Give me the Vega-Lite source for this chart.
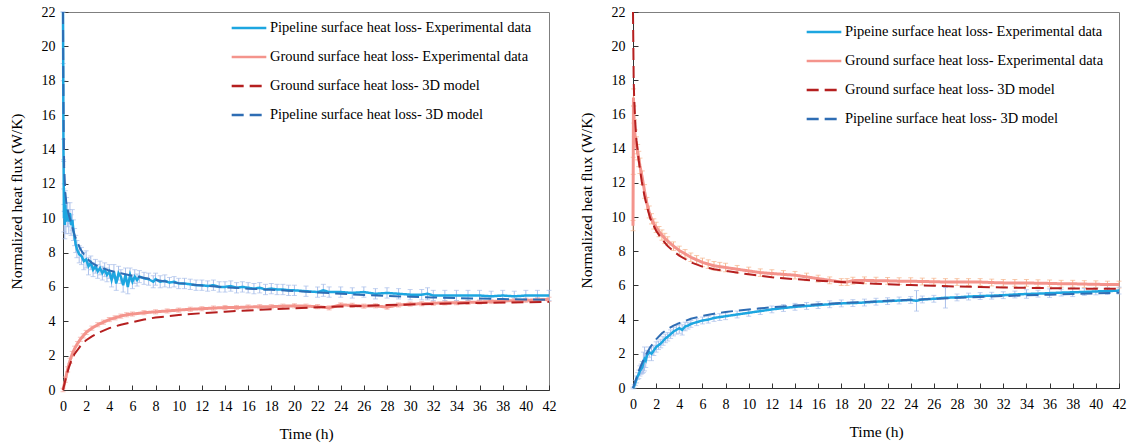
{
  "$schema": "https://vega.github.io/schema/vega-lite/v6.json",
  "padding": {"left": 8, "top": 4, "right": 4, "bottom": 4},
  "background": "white",
  "datasets": {
    "aPE": [
      {"t":0,"v":22,"e":0},{"t":0.02,"v":18.5,"e":0.5},{"t":0.04,"v":14,"e":0.6},{"t":0.06,"v":12.5,"e":0.8},{"t":0.08,"v":10,"e":0.8},
      {"t":0.1,"v":11.2,"e":0.8},{"t":0.15,"v":9.6,"e":0.8},{"t":0.2,"v":10.8,"e":0.8},{"t":0.25,"v":9.8,"e":0.7},{"t":0.3,"v":10.5,"e":0.7},
      {"t":0.4,"v":10.2,"e":0.7},{"t":0.5,"v":9.8,"e":0.7},{"t":0.6,"v":10.3,"e":0.6},{"t":0.7,"v":9.6,"e":0.6},{"t":0.8,"v":9.9,"e":0.6},
      {"t":0.9,"v":9.3,"e":0.6},{"t":1,"v":8.9,"e":0.5},{"t":1.1,"v":8.5,"e":0.5},{"t":1.2,"v":8.2,"e":0.5},{"t":1.4,"v":7.9,"e":0.5},
      {"t":1.6,"v":7.8,"e":0.5},{"t":1.8,"v":7.5,"e":0.5},{"t":2,"v":7.6,"e":0.5},{"t":2.2,"v":7.2,"e":0.5},{"t":2.4,"v":7.4,"e":0.4},
      {"t":2.6,"v":7.0,"e":0.4},{"t":2.8,"v":7.2,"e":0.4},{"t":3,"v":6.9,"e":0.4},{"t":3.2,"v":7.1,"e":0.4},{"t":3.4,"v":6.8,"e":0.4},
      {"t":3.6,"v":7.0,"e":0.4},{"t":3.8,"v":6.7,"e":0.4},{"t":4,"v":6.9,"e":0.4},{"t":4.2,"v":6.4,"e":0.4},{"t":4.4,"v":6.9,"e":0.4},
      {"t":4.6,"v":6.2,"e":0.4},{"t":4.8,"v":6.8,"e":0.4},{"t":5,"v":6.6,"e":0.4},{"t":5.2,"v":6.1,"e":0.4},{"t":5.4,"v":6.7,"e":0.4},
      {"t":5.6,"v":6.0,"e":0.4},{"t":5.8,"v":6.7,"e":0.4},{"t":6,"v":6.3,"e":0.4},{"t":6.2,"v":6.6,"e":0.4},{"t":6.4,"v":6.4,"e":0.35},
      {"t":6.6,"v":6.6,"e":0.35},{"t":7,"v":6.5,"e":0.35},{"t":7.4,"v":6.45,"e":0.35},{"t":7.8,"v":6.3,"e":0.35},{"t":8,"v":6.45,"e":0.35},
      {"t":8.4,"v":6.3,"e":0.35},{"t":8.8,"v":6.35,"e":0.35},{"t":9.2,"v":6.25,"e":0.3},{"t":9.6,"v":6.3,"e":0.3},{"t":10,"v":6.2,"e":0.3},
      {"t":10.5,"v":6.2,"e":0.3},{"t":11,"v":6.15,"e":0.3},{"t":11.5,"v":6.1,"e":0.3},{"t":12,"v":6.1,"e":0.3},{"t":12.5,"v":6.05,"e":0.3},
      {"t":13,"v":6.1,"e":0.3},{"t":13.5,"v":6.0,"e":0.3},{"t":14,"v":6.0,"e":0.3},{"t":14.5,"v":6.05,"e":0.3},{"t":15,"v":5.95,"e":0.3},
      {"t":15.5,"v":6.0,"e":0.3},{"t":16,"v":5.95,"e":0.3},{"t":16.5,"v":5.9,"e":0.3},{"t":17,"v":5.95,"e":0.3},{"t":17.5,"v":5.85,"e":0.3},
      {"t":18,"v":5.9,"e":0.3},{"t":18.5,"v":5.85,"e":0.3},{"t":19,"v":5.85,"e":0.3},{"t":19.5,"v":5.8,"e":0.3},{"t":20,"v":5.8,"e":0.3},
      {"t":21,"v":5.75,"e":0.3},{"t":22,"v":5.7,"e":0.3},{"t":22.5,"v":5.8,"e":0.35},{"t":23,"v":5.7,"e":0.3},{"t":24,"v":5.7,"e":0.3},
      {"t":25,"v":5.65,"e":0.3},{"t":26,"v":5.7,"e":0.3},{"t":27,"v":5.6,"e":0.3},{"t":28,"v":5.65,"e":0.3},{"t":29,"v":5.6,"e":0.3},
      {"t":30,"v":5.55,"e":0.3},{"t":31,"v":5.55,"e":0.3},{"t":31.5,"v":5.6,"e":0.35},{"t":32,"v":5.5,"e":0.3},{"t":33,"v":5.5,"e":0.3},
      {"t":34,"v":5.5,"e":0.3},{"t":35,"v":5.5,"e":0.3},{"t":36,"v":5.5,"e":0.3},{"t":37,"v":5.45,"e":0.3},{"t":38,"v":5.5,"e":0.3},
      {"t":39,"v":5.45,"e":0.3},{"t":40,"v":5.5,"e":0.3},{"t":41,"v":5.5,"e":0.3},{"t":42,"v":5.5,"e":0.3}
    ],
    "aPM": [
      {"t":0,"v":22},{"t":0.03,"v":18},{"t":0.06,"v":15},{"t":0.1,"v":13},{"t":0.2,"v":11.5},{"t":0.3,"v":10.8},
      {"t":0.5,"v":10.2},{"t":0.8,"v":9.5},{"t":1,"v":9.0},{"t":1.5,"v":8.2},{"t":2,"v":7.7},{"t":2.5,"v":7.4},
      {"t":3,"v":7.2},{"t":4,"v":6.95},{"t":5,"v":6.8},{"t":6,"v":6.65},{"t":8,"v":6.4},{"t":10,"v":6.22},
      {"t":12,"v":6.08},{"t":14,"v":5.98},{"t":16,"v":5.9},{"t":18,"v":5.83},{"t":20,"v":5.76},{"t":22,"v":5.68},
      {"t":24,"v":5.6},{"t":26,"v":5.53},{"t":28,"v":5.47},{"t":30,"v":5.43},{"t":32,"v":5.39},{"t":34,"v":5.35},
      {"t":36,"v":5.32},{"t":38,"v":5.29},{"t":40,"v":5.27},{"t":42,"v":5.25}
    ],
    "aGE": [
      {"t":0,"v":0,"e":0.1},{"t":0.2,"v":0.6,"e":0.15},{"t":0.4,"v":1.2,"e":0.15},{"t":0.6,"v":1.7,"e":0.15},{"t":0.8,"v":2.1,"e":0.15},
      {"t":1,"v":2.4,"e":0.15},{"t":1.25,"v":2.7,"e":0.12},{"t":1.5,"v":2.95,"e":0.12},{"t":1.75,"v":3.15,"e":0.12},{"t":2,"v":3.35,"e":0.12},
      {"t":2.5,"v":3.6,"e":0.12},{"t":3,"v":3.8,"e":0.12},{"t":3.5,"v":3.95,"e":0.12},{"t":4,"v":4.1,"e":0.12},{"t":4.5,"v":4.2,"e":0.12},
      {"t":5,"v":4.3,"e":0.12},{"t":5.5,"v":4.38,"e":0.12},{"t":6,"v":4.42,"e":0.12},{"t":7,"v":4.5,"e":0.12},{"t":8,"v":4.55,"e":0.12},
      {"t":9,"v":4.6,"e":0.12},{"t":10,"v":4.65,"e":0.12},{"t":11,"v":4.7,"e":0.12},{"t":12,"v":4.73,"e":0.12},{"t":13,"v":4.77,"e":0.12},
      {"t":14,"v":4.8,"e":0.12},{"t":15,"v":4.8,"e":0.12},{"t":16,"v":4.83,"e":0.12},{"t":17,"v":4.85,"e":0.12},{"t":18,"v":4.85,"e":0.12},
      {"t":19,"v":4.88,"e":0.12},{"t":20,"v":4.9,"e":0.12},{"t":21,"v":4.88,"e":0.12},{"t":22,"v":4.85,"e":0.12},{"t":23,"v":4.78,"e":0.12},
      {"t":24,"v":4.95,"e":0.12},{"t":25,"v":4.93,"e":0.12},{"t":26,"v":4.88,"e":0.12},{"t":27,"v":4.9,"e":0.12},{"t":28,"v":4.82,"e":0.12},
      {"t":29,"v":4.95,"e":0.12},{"t":30,"v":5.0,"e":0.12},{"t":31,"v":5.02,"e":0.12},{"t":32,"v":5.05,"e":0.12},{"t":33,"v":5.07,"e":0.12},
      {"t":34,"v":5.08,"e":0.12},{"t":35,"v":5.1,"e":0.12},{"t":36,"v":5.12,"e":0.12},{"t":37,"v":5.15,"e":0.12},{"t":38,"v":5.18,"e":0.12},
      {"t":39,"v":5.2,"e":0.12},{"t":40,"v":5.22,"e":0.12},{"t":41,"v":5.25,"e":0.12},{"t":42,"v":5.28,"e":0.12}
    ],
    "aGM": [
      {"t":0,"v":0},{"t":0.25,"v":0.7},{"t":0.5,"v":1.3},{"t":0.75,"v":1.75},{"t":1,"v":2.1},{"t":1.5,"v":2.55},
      {"t":2,"v":2.9},{"t":2.5,"v":3.12},{"t":3,"v":3.3},{"t":3.5,"v":3.46},{"t":4,"v":3.6},{"t":5,"v":3.8},
      {"t":6,"v":3.95},{"t":7,"v":4.1},{"t":8,"v":4.22},{"t":10,"v":4.36},{"t":12,"v":4.47},{"t":14,"v":4.56},
      {"t":16,"v":4.63},{"t":18,"v":4.7},{"t":20,"v":4.76},{"t":22,"v":4.81},{"t":24,"v":4.86},{"t":26,"v":4.9},
      {"t":28,"v":4.94},{"t":30,"v":4.98},{"t":32,"v":5.01},{"t":34,"v":5.04},{"t":36,"v":5.07},{"t":38,"v":5.09},
      {"t":40,"v":5.11},{"t":42,"v":5.13}
    ],
    "bGE": [
      {"t":0,"v":9.5,"e":0.3},{"t":0.02,"v":13,"e":0.5},{"t":0.04,"v":17,"e":0.5},{"t":0.08,"v":16,"e":0.5},{"t":0.12,"v":15.2,"e":0.5},
      {"t":0.2,"v":14.6,"e":0.5},{"t":0.3,"v":14.2,"e":0.5},{"t":0.4,"v":13.8,"e":0.45},{"t":0.5,"v":13.4,"e":0.45},{"t":0.6,"v":13.0,"e":0.45},
      {"t":0.8,"v":12.3,"e":0.4},{"t":1,"v":11.5,"e":0.4},{"t":1.2,"v":10.8,"e":0.35},{"t":1.4,"v":10.3,"e":0.35},{"t":1.6,"v":9.9,"e":0.3},
      {"t":1.8,"v":9.6,"e":0.3},{"t":2,"v":9.4,"e":0.3},{"t":2.25,"v":9.15,"e":0.3},{"t":2.5,"v":8.95,"e":0.3},{"t":2.75,"v":8.75,"e":0.3},
      {"t":3,"v":8.6,"e":0.25},{"t":3.5,"v":8.3,"e":0.25},{"t":4,"v":8.05,"e":0.25},{"t":4.5,"v":7.85,"e":0.25},{"t":5,"v":7.65,"e":0.25},
      {"t":5.5,"v":7.5,"e":0.25},{"t":6,"v":7.35,"e":0.25},{"t":6.5,"v":7.25,"e":0.25},{"t":7,"v":7.15,"e":0.25},{"t":7.5,"v":7.1,"e":0.25},
      {"t":8,"v":7.05,"e":0.25},{"t":9,"v":6.95,"e":0.22},{"t":10,"v":6.85,"e":0.22},{"t":11,"v":6.75,"e":0.22},{"t":12,"v":6.7,"e":0.22},
      {"t":13,"v":6.65,"e":0.22},{"t":14,"v":6.6,"e":0.22},{"t":15,"v":6.5,"e":0.22},{"t":16,"v":6.4,"e":0.2},{"t":17,"v":6.3,"e":0.2},
      {"t":18,"v":6.2,"e":0.2},{"t":18.5,"v":6.2,"e":0.2},{"t":19,"v":6.28,"e":0.2},{"t":20,"v":6.3,"e":0.2},{"t":21,"v":6.28,"e":0.2},
      {"t":22,"v":6.27,"e":0.2},{"t":23,"v":6.25,"e":0.2},{"t":24,"v":6.25,"e":0.2},{"t":25,"v":6.23,"e":0.2},{"t":26,"v":6.22,"e":0.2},
      {"t":27,"v":6.2,"e":0.2},{"t":28,"v":6.2,"e":0.2},{"t":29,"v":6.2,"e":0.2},{"t":30,"v":6.2,"e":0.2},{"t":31,"v":6.17,"e":0.2},
      {"t":32,"v":6.15,"e":0.2},{"t":33,"v":6.15,"e":0.2},{"t":34,"v":6.15,"e":0.2},{"t":35,"v":6.13,"e":0.2},{"t":36,"v":6.12,"e":0.2},
      {"t":37,"v":6.1,"e":0.2},{"t":38,"v":6.1,"e":0.2},{"t":39,"v":6.08,"e":0.2},{"t":40,"v":6.07,"e":0.2},{"t":41,"v":6.05,"e":0.2},
      {"t":42,"v":6.05,"e":0.2}
    ],
    "bGM": [
      {"t":0,"v":22},{"t":0.03,"v":20},{"t":0.06,"v":18},{"t":0.1,"v":17},{"t":0.2,"v":15.5},{"t":0.3,"v":14.5},
      {"t":0.5,"v":13.3},{"t":0.75,"v":12.1},{"t":1,"v":11.2},{"t":1.25,"v":10.5},{"t":1.5,"v":9.9},{"t":2,"v":9.2},
      {"t":2.5,"v":8.7},{"t":3,"v":8.3},{"t":3.5,"v":8.0},{"t":4,"v":7.75},{"t":5,"v":7.35},{"t":6,"v":7.1},
      {"t":7,"v":6.95},{"t":8,"v":6.85},{"t":10,"v":6.65},{"t":12,"v":6.48},{"t":14,"v":6.37},{"t":16,"v":6.28},
      {"t":18,"v":6.2},{"t":20,"v":6.13},{"t":22,"v":6.07},{"t":24,"v":6.02},{"t":26,"v":5.98},{"t":28,"v":5.94},
      {"t":30,"v":5.91},{"t":32,"v":5.88},{"t":34,"v":5.86},{"t":36,"v":5.84},{"t":38,"v":5.82},{"t":40,"v":5.81},
      {"t":42,"v":5.8}
    ],
    "bPE": [
      {"t":0,"v":0,"e":0.05},{"t":0.1,"v":0.1,"e":0.1},{"t":0.2,"v":0.3,"e":0.15},{"t":0.3,"v":0.5,"e":0.2},{"t":0.4,"v":0.7,"e":0.2},
      {"t":0.5,"v":0.8,"e":0.25},{"t":0.6,"v":1.0,"e":0.3},{"t":0.7,"v":1.1,"e":0.3},{"t":0.8,"v":1.2,"e":0.35},{"t":0.9,"v":1.5,"e":0.6},
      {"t":1,"v":1.7,"e":0.7},{"t":1.1,"v":1.6,"e":0.4},{"t":1.2,"v":1.9,"e":0.3},{"t":1.4,"v":2.1,"e":0.3},{"t":1.6,"v":2.0,"e":0.4},
      {"t":1.8,"v":2.2,"e":0.3},{"t":2,"v":2.4,"e":0.3},{"t":2.2,"v":2.5,"e":0.25},{"t":2.4,"v":2.6,"e":0.25},{"t":2.6,"v":2.75,"e":0.25},
      {"t":2.8,"v":2.9,"e":0.25},{"t":3,"v":3.0,"e":0.25},{"t":3.25,"v":3.15,"e":0.25},{"t":3.5,"v":3.3,"e":0.25},{"t":3.75,"v":3.4,"e":0.25},
      {"t":4,"v":3.5,"e":0.3},{"t":4.25,"v":3.4,"e":0.3},{"t":4.5,"v":3.6,"e":0.25},{"t":4.75,"v":3.65,"e":0.2},{"t":5,"v":3.75,"e":0.2},
      {"t":5.5,"v":3.85,"e":0.2},{"t":6,"v":3.95,"e":0.2},{"t":6.5,"v":4.0,"e":0.2},{"t":7,"v":4.1,"e":0.2},{"t":7.5,"v":4.15,"e":0.2},
      {"t":8,"v":4.2,"e":0.2},{"t":9,"v":4.3,"e":0.2},{"t":10,"v":4.4,"e":0.2},{"t":11,"v":4.5,"e":0.2},{"t":12,"v":4.6,"e":0.2},
      {"t":13,"v":4.68,"e":0.2},{"t":14,"v":4.75,"e":0.2},{"t":15,"v":4.8,"e":0.2},{"t":16,"v":4.85,"e":0.2},{"t":17,"v":4.9,"e":0.2},
      {"t":18,"v":4.95,"e":0.2},{"t":19,"v":4.97,"e":0.2},{"t":20,"v":5.0,"e":0.2},{"t":21,"v":5.05,"e":0.2},{"t":22,"v":5.08,"e":0.2},
      {"t":23,"v":5.12,"e":0.2},{"t":24,"v":5.15,"e":0.2},{"t":24.5,"v":5.1,"e":0.6},{"t":25,"v":5.18,"e":0.2},{"t":26,"v":5.22,"e":0.2},
      {"t":27,"v":5.28,"e":0.6},{"t":28,"v":5.3,"e":0.2},{"t":29,"v":5.35,"e":0.2},{"t":30,"v":5.38,"e":0.2},{"t":31,"v":5.4,"e":0.2},
      {"t":32,"v":5.43,"e":0.2},{"t":33,"v":5.47,"e":0.2},{"t":34,"v":5.5,"e":0.25},{"t":35,"v":5.52,"e":0.2},{"t":36,"v":5.55,"e":0.25},
      {"t":37,"v":5.58,"e":0.2},{"t":38,"v":5.6,"e":0.25},{"t":39,"v":5.62,"e":0.2},{"t":40,"v":5.65,"e":0.2},{"t":41,"v":5.67,"e":0.2},
      {"t":42,"v":5.7,"e":0.2}
    ],
    "bPM": [
      {"t":0,"v":0},{"t":0.3,"v":0.6},{"t":0.5,"v":1.0},{"t":1,"v":1.8},{"t":1.5,"v":2.4},{"t":2,"v":2.85},
      {"t":2.5,"v":3.2},{"t":3,"v":3.45},{"t":3.5,"v":3.65},{"t":4,"v":3.8},{"t":5,"v":4.05},{"t":6,"v":4.22},
      {"t":7,"v":4.35},{"t":8,"v":4.45},{"t":10,"v":4.6},{"t":12,"v":4.72},{"t":14,"v":4.82},{"t":16,"v":4.9},
      {"t":18,"v":4.97},{"t":20,"v":5.03},{"t":22,"v":5.1},{"t":24,"v":5.16},{"t":26,"v":5.22},{"t":28,"v":5.28},
      {"t":30,"v":5.33},{"t":32,"v":5.38},{"t":34,"v":5.42},{"t":36,"v":5.46},{"t":38,"v":5.5},{"t":40,"v":5.54},
      {"t":42,"v":5.57}
    ]
  },
  "hconcat": [
    {
      "width": 486,
      "height": 378,
      "encoding": {
        "x": {"field": "t", "type": "quantitative", "title": "Time (h)",
              "scale": {"domain": [0, 42], "nice": false, "zero": false},
              "axis": {"values": [0,2,4,6,8,10,12,14,16,18,20,22,24,26,28,30,32,34,36,38,40,42]}},
        "y": {"field": "v", "type": "quantitative", "title": "Normalized heat flux (W/K)",
              "scale": {"domain": [0, 22], "nice": false},
              "axis": {"values": [0,2,4,6,8,10,12,14,16,18,20,22]}}
      },
      "layer": [
        {"data": {"name": "aGE"}, "mark": {"type": "errorbar", "ticks": true, "color": "#F4A9A0", "thickness": 1}, "encoding": {"yError": {"field": "e"}}},
        {"data": {"name": "aPE"}, "mark": {"type": "errorbar", "ticks": true, "color": "#A9BFEA", "thickness": 1}, "encoding": {"yError": {"field": "e"}}},
        {"data": {"name": "aGE"}, "mark": {"type": "line", "strokeWidth": 3},
         "encoding": {
           "color": {"datum": "Ground surface heat loss- Experimental data", "type": "nominal",
             "scale": {"domain": ["Pipeline surface heat loss- Experimental data", "Ground surface heat loss- Experimental data", "Ground surface heat loss- 3D model", "Pipeline surface heat loss- 3D model"],
                       "range": ["#1DA6E0", "#F4948C", "#B51F1F", "#2E6DB4"]},
             "legend": {"title": null, "orient": "none", "legendX": 167, "legendY": -3}},
           "strokeDash": {"datum": "Ground surface heat loss- Experimental data", "type": "nominal",
             "scale": {"domain": ["Pipeline surface heat loss- Experimental data", "Ground surface heat loss- Experimental data", "Ground surface heat loss- 3D model", "Pipeline surface heat loss- 3D model"],
                       "range": [[1, 0], [1, 0], [12, 6], [12, 6]]},
             "legend": {"title": null, "orient": "none", "legendX": 167, "legendY": -3}}
         }},
        {"data": {"name": "aPE"}, "mark": {"type": "line", "strokeWidth": 2.5},
         "encoding": {
           "color": {"datum": "Pipeline surface heat loss- Experimental data", "type": "nominal"},
           "strokeDash": {"datum": "Pipeline surface heat loss- Experimental data", "type": "nominal"}
         }},
        {"data": {"name": "aGM"}, "mark": {"type": "line", "strokeWidth": 2},
         "encoding": {
           "color": {"datum": "Ground surface heat loss- 3D model", "type": "nominal"},
           "strokeDash": {"datum": "Ground surface heat loss- 3D model", "type": "nominal"}
         }},
        {"data": {"name": "aPM"}, "mark": {"type": "line", "strokeWidth": 2},
         "encoding": {
           "color": {"datum": "Pipeline surface heat loss- 3D model", "type": "nominal"},
           "strokeDash": {"datum": "Pipeline surface heat loss- 3D model", "type": "nominal"}
         }}
      ]
    },
    {
      "width": 486,
      "height": 376,
      "encoding": {
        "x": {"field": "t", "type": "quantitative", "title": "Time (h)",
              "scale": {"domain": [0, 42], "nice": false, "zero": false},
              "axis": {"values": [0,2,4,6,8,10,12,14,16,18,20,22,24,26,28,30,32,34,36,38,40,42]}},
        "y": {"field": "v", "type": "quantitative", "title": "Normalized heat flux (W/K)",
              "scale": {"domain": [0, 22], "nice": false},
              "axis": {"values": [0,2,4,6,8,10,12,14,16,18,20,22]}}
      },
      "layer": [
        {"data": {"name": "bGE"}, "mark": {"type": "errorbar", "ticks": true, "color": "#F5B48C", "thickness": 1}, "encoding": {"yError": {"field": "e"}}},
        {"data": {"name": "bPE"}, "mark": {"type": "errorbar", "ticks": true, "color": "#A9BFEA", "thickness": 1}, "encoding": {"yError": {"field": "e"}}},
        {"data": {"name": "bGE"}, "mark": {"type": "line", "strokeWidth": 3},
         "encoding": {
           "color": {"datum": "Ground surface heat loss- Experimental data", "type": "nominal",
             "scale": {"domain": ["Pipeine surface heat loss- Experimental data", "Ground surface heat loss- Experimental data", "Ground surface heat loss- 3D model", "Pipeline surface heat loss- 3D model"],
                       "range": ["#1DA6E0", "#F4948C", "#B51F1F", "#2E6DB4"]},
             "legend": {"title": null, "orient": "none", "legendX": 172, "legendY": 1}},
           "strokeDash": {"datum": "Ground surface heat loss- Experimental data", "type": "nominal",
             "scale": {"domain": ["Pipeine surface heat loss- Experimental data", "Ground surface heat loss- Experimental data", "Ground surface heat loss- 3D model", "Pipeline surface heat loss- 3D model"],
                       "range": [[1, 0], [1, 0], [12, 6], [12, 6]]},
             "legend": {"title": null, "orient": "none", "legendX": 172, "legendY": 1}}
         }},
        {"data": {"name": "bPE"}, "mark": {"type": "line", "strokeWidth": 2.5},
         "encoding": {
           "color": {"datum": "Pipeine surface heat loss- Experimental data", "type": "nominal"},
           "strokeDash": {"datum": "Pipeine surface heat loss- Experimental data", "type": "nominal"}
         }},
        {"data": {"name": "bGM"}, "mark": {"type": "line", "strokeWidth": 2},
         "encoding": {
           "color": {"datum": "Ground surface heat loss- 3D model", "type": "nominal"},
           "strokeDash": {"datum": "Ground surface heat loss- 3D model", "type": "nominal"}
         }},
        {"data": {"name": "bPM"}, "mark": {"type": "line", "strokeWidth": 2},
         "encoding": {
           "color": {"datum": "Pipeline surface heat loss- 3D model", "type": "nominal"},
           "strokeDash": {"datum": "Pipeline surface heat loss- 3D model", "type": "nominal"}
         }}
      ]
    }
  ],
  "spacing": 21,
  "resolve": {
    "scale": {"color": "independent", "strokeDash": "independent"},
    "legend": {"color": "independent", "strokeDash": "independent"}
  },
  "config": {
    "font": "Liberation Serif",
    "view": {"stroke": "#7f7f7f", "strokeWidth": 1},
    "axis": {
      "labelFont": "Liberation Serif", "labelFontSize": 14, "labelColor": "#000",
      "titleFont": "Liberation Serif", "titleFontSize": 15.5, "titleFontWeight": "normal", "titleColor": "#000",
      "tickSize": -5, "tickColor": "#333", "domainColor": "#333", "grid": false,
      "labelFlush": false, "labelOverlap": false
    },
    "axisX": {"labelPadding": 14, "titlePadding": 13},
    "axisY": {"labelPadding": 13, "titlePadding": 17},
    "legend": {
      "labelFont": "Liberation Serif", "labelFontSize": 14.5, "labelColor": "#000", "labelLimit": 400,
      "symbolType": "stroke", "symbolSize": 1200, "symbolStrokeWidth": 2.5,
      "rowPadding": 3, "labelOffset": 2, "padding": 0
    }
  }
}
